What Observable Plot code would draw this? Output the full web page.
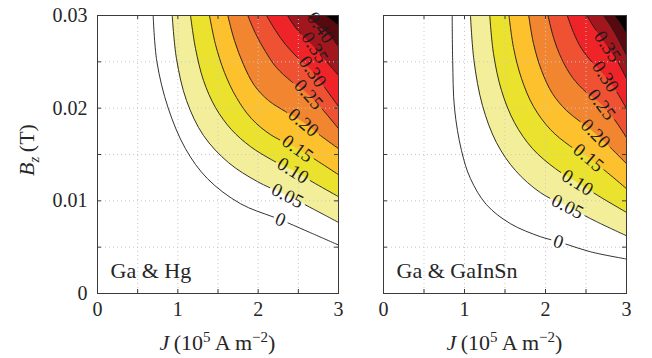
<!DOCTYPE html>
<html><head><meta charset="utf-8">
<script src="https://cdn.jsdelivr.net/npm/d3@7"></script>
<script src="https://cdn.jsdelivr.net/npm/@observablehq/plot@0.6"></script>
<style>
body{margin:0;background:#fff;}
#wrap{position:relative;width:652px;height:358px;font-family:"Liberation Serif",serif;color:#262626;overflow:hidden;}
#wrap svg{position:absolute;top:0;}
.t{position:absolute;font-size:22px;white-space:nowrap;line-height:1;}
.t sup{font-size:15px;vertical-align:8px;line-height:0;}
.t sub{font-size:15px;vertical-align:-5px;line-height:0;}
</style></head><body><div id="wrap"></div>
<script>
// contour levels and label texts
const levels = [0, 0.05, 0.10, 0.15, 0.20, 0.25, 0.30, 0.35, 0.40, 0.45];
const levelLabels = ["0", "0.05", "0.10", "0.15", "0.20", "0.25", "0.30", "0.35", "0.40"];
// fill colour of the band above each level (0.05 ... 0.45+)
const bandColors = ["#f2ee9a", "#ebe22e", "#fcc12c", "#f2852f", "#ee5232", "#ee2428", "#a2161e", "#560a10", "#0a0000"];

const xTicks = [0, 1, 2, 3];
const xTickLabels = ["0", "1", "2", "3"];
const yTicks = [0, 0.01, 0.02, 0.03];
const yTickLabels = ["0", "0.01", "0.02", "0.03"];
const xMinor = [0.5, 1, 1.5, 2, 2.5];
const yMinor = [0.005, 0.01, 0.015, 0.02, 0.025];

// contour lines, [J, Bz] — Ga & Hg
const gaHgContours = [
  [[0.693,0.03],[0.739,0.02503],[0.878,0.02006],[1.095,0.01563],[1.369,0.01239],[1.780,0.00969],[2.278,0.00796],[2.651,0.00656],[3,0.00523]],
  [[0.930,0.03],[0.983,0.02535],[1.108,0.02082],[1.320,0.01704],[1.631,0.01412],[1.992,0.01207],[2.365,0.01055],[2.689,0.00910],[3,0.00767]],
  [[1.158,0.03],[1.220,0.02644],[1.320,0.02298],[1.469,0.02006],[1.668,0.01768],[1.905,0.01585],[2.166,0.01444],[2.434,0.01326],[2.714,0.01185],[3,0.01045]],
  [[1.394,0.03],[1.469,0.02687],[1.581,0.02384],[1.730,0.02114],[1.917,0.01887],[2.154,0.01714],[2.490,0.01563],[2.751,0.01423],[3,0.01282]],
  [[1.622,0.03],[1.705,0.02730],[1.817,0.02471],[1.954,0.02244],[2.129,0.02082],[2.340,0.01963],[2.564,0.01844],[2.776,0.01704],[3,0.01563]],
  [[1.871,0.03],[1.967,0.02806],[2.091,0.02611],[2.228,0.02438],[2.415,0.02287],[2.627,0.02147],[2.813,0.01974],[3,0.01779]],
  [[2.104,0.03],[2.216,0.02838],[2.340,0.02687],[2.490,0.02546],[2.677,0.02395],[2.838,0.02211],[3,0.02017]],
  [[2.365,0.03],[2.465,0.02870],[2.577,0.02762],[2.702,0.02654],[2.851,0.02503],[3,0.02352]],
  [[2.610,0.03],[2.689,0.02935],[2.776,0.02870],[2.888,0.02784],[3,0.02665]],
  [[2.838,0.03],[2.913,0.02951],[3,0.02892]]
];
const gaHgLabelJ = [2.278, 2.365, 2.434, 2.490, 2.564, 2.627, 2.677, 2.702, 2.776];
const gaHgLabelB = [0.00796, 0.01055, 0.01326, 0.01563, 0.01844, 0.02147, 0.02395, 0.02654, 0.02870];
const gaHgLabelAngle = [22, 27, 32, 36, 40, 48, 55, 58, 55];

// contour lines — Ga & GaInSn
const gaInSnContours = [
  [[0.848,0.03],[0.854,0.02514],[0.877,0.01995],[0.963,0.01542],[1.074,0.01239],[1.272,0.00958],[1.568,0.00753],[1.938,0.00613],[2.160,0.00559],[2.556,0.00450],[3,0.00372]],
  [[1.074,0.03],[1.117,0.02514],[1.222,0.02028],[1.395,0.01628],[1.630,0.01326],[1.938,0.01088],[2.272,0.00937],[2.630,0.00775],[3,0.00623]],
  [[1.312,0.03],[1.358,0.02589],[1.457,0.02190],[1.617,0.01844],[1.840,0.01563],[2.123,0.01347],[2.395,0.01196],[2.691,0.01034],[3,0.00875]],
  [[1.549,0.03],[1.605,0.02654],[1.704,0.02319],[1.852,0.02017],[2.062,0.01768],[2.296,0.01596],[2.531,0.01466],[2.765,0.01304],[3,0.01131]],
  [[1.793,0.03],[1.852,0.02697],[1.951,0.02406],[2.086,0.02157],[2.259,0.01974],[2.444,0.01844],[2.617,0.01725],[2.802,0.01574],[3,0.01401]],
  [[2.031,0.03],[2.099,0.02762],[2.198,0.02535],[2.333,0.02330],[2.506,0.02168],[2.691,0.02039],[2.852,0.01876],[3,0.01682]],
  [[2.269,0.03],[2.346,0.02816],[2.444,0.02644],[2.580,0.02492],[2.741,0.02341],[2.877,0.02179],[3,0.01995]],
  [[2.512,0.03],[2.593,0.02881],[2.679,0.02773],[2.765,0.02665],[2.889,0.02503],[3,0.02319]],
  [[2.716,0.03],[2.802,0.02892],[2.901,0.02741],[3,0.02568]],
  [[2.852,0.03],[2.926,0.02914],[3,0.02806]]
];
const gaInSnLabelJ = [2.160, 2.272, 2.395, 2.531, 2.617, 2.691, 2.741, 2.765];
const gaInSnLabelB = [0.00559, 0.00937, 0.01196, 0.01466, 0.01725, 0.02039, 0.02341, 0.02665];
const gaInSnLabelAngle = [18, 27, 32, 40, 45, 53, 57, 57];

const H = 358, MT = 15, MB = 65;
const lineColor = "#1c1c1c", frameColor = "#3a3a3a";

function panel({contours, labelJ, labelB, labelAngle, name, width, marginLeft, marginRight, showY}) {
  const innerH = H - MT - MB, innerW = width - marginLeft - marginRight;
  const marks = [];
  contours.forEach((pts, i) => {
    if (i === 0) return;
    marks.push(Plot.areaY(pts.map(([J, B]) => ({J, B})), {
      x: "J", y1: "B", y2: 0.03, fill: bandColors[i - 1], curve: "catmull-rom"
    }));
  });
  marks.push(Plot.ruleX(xMinor, {stroke: "#c8c8c8", strokeDasharray: "1,3", strokeWidth: 1}));
  marks.push(Plot.ruleY(yMinor, {stroke: "#c8c8c8", strokeDasharray: "1,3", strokeWidth: 1}));
  contours.forEach((pts) => {
    marks.push(Plot.line(pts.map(([J, B]) => ({J, B})), {x: "J", y: "B", stroke: lineColor, strokeWidth: 0.9, curve: "catmull-rom", ariaDescription: "contour-line"}));
  });
  const labelData = labelJ.map((J, i) => ({J, B: labelB[i], text: levelLabels[i], a: labelAngle[i]}));
  marks.push(Plot.text(labelData, {x: "J", y: "B", text: "text", rotate: "a", fontSize: 19, fill: "#1c1c1c", fontFamily: "Liberation Serif", ariaDescription: "contour-labels"}));
  // inward ticks on all four sides
  marks.push(Plot.tickX(xMinor, {x: d => d, insetTop: innerH - 4, stroke: frameColor}));
  marks.push(Plot.tickX(xMinor, {x: d => d, insetBottom: innerH - 4, stroke: frameColor}));
  marks.push(Plot.tickY(yMinor, {y: d => d, insetRight: innerW - 4, stroke: frameColor}));
  marks.push(Plot.tickY(yMinor, {y: d => d, insetLeft: innerW - 4, stroke: frameColor}));
  marks.push(Plot.frame({stroke: frameColor, strokeWidth: 1}));
  marks.push(Plot.text([name], {text: d => d, frameAnchor: "bottom-left", dx: 13, dy: -23, textAnchor: "start", lineAnchor: "middle", fontSize: 22, fill: "#262626"}));
  return Plot.plot({
    width, height: H, marginLeft, marginRight, marginTop: MT, marginBottom: MB,
    style: {fontFamily: "Liberation Serif", fontSize: "20px", color: "#262626", background: "transparent", overflow: "visible"},
    x: {domain: [0, 3], ticks: xTicks, tickFormat: d => xTickLabels[xTicks.indexOf(d)], tickSize: 0, tickPadding: 8, label: null},
    y: showY ? {domain: [0, 0.03], ticks: yTicks, tickFormat: d => yTickLabels[yTicks.indexOf(d)], tickSize: 0, tickPadding: 10, label: null}
             : {domain: [0, 0.03], axis: null},
    marks
  });
}

// break each contour line where a label sits on it (stroke-dasharray along the path)
function gapLines(svg, labelJ, labelB) {
  const paths = [...svg.querySelectorAll('g[aria-description="contour-line"] path')];
  const texts = [...svg.querySelectorAll('g[aria-description="contour-labels"] text')];
  if (!paths.length || !texts.length) return;
  const sx = svg.scale("x"), sy = svg.scale("y");
  const lens = paths.map(p => p.getTotalLength());
  const gaps = paths.map(() => []);
  texts.forEach((t, i) => {
    const px = sx.apply(labelJ[i]), py = sy.apply(labelB[i]);
    const half = t.getBBox().width / 2 + 3;
    let best = {d: Infinity, k: -1, s: 0};
    paths.forEach((p, k) => {
      for (let s = 0; s <= lens[k]; s += 0.5) {
        const q = p.getPointAtLength(s);
        const d = (q.x - px) ** 2 + (q.y - py) ** 2;
        if (d < best.d) best = {d, k, s};
      }
    });
    if (best.k >= 0) gaps[best.k].push([best.s - half, best.s + half]);
  });
  paths.forEach((p, k) => {
    if (!gaps[k].length) return;
    gaps[k].sort((a, b) => a[0] - b[0]);
    const arr = [];
    let pos = 0;
    for (const [a, b] of gaps[k]) {
      const a1 = Math.max(a, pos);
      arr.push(Math.max(0, a1 - pos), Math.max(0, b - a1));
      pos = Math.max(b, pos);
    }
    arr.push(lens[k] - pos + 20, 0);
    p.setAttribute("stroke-dasharray", arr.map(v => v.toFixed(2)).join(" "));
  });
}

const wrap = document.getElementById("wrap");
const left = panel({contours: gaHgContours, labelJ: gaHgLabelJ, labelB: gaHgLabelB, labelAngle: gaHgLabelAngle,
  name: "Ga & Hg", width: 362, marginLeft: 97, marginRight: 24, showY: true});
const right = panel({contours: gaInSnContours, labelJ: gaInSnLabelJ, labelB: gaInSnLabelB, labelAngle: gaInSnLabelAngle,
  name: "Ga & GaInSn", width: 312, marginLeft: 43, marginRight: 26, showY: false});
left.style.left = "0px";
right.style.left = "340px";
wrap.append(left, right);
try { gapLines(left, gaHgLabelJ, gaHgLabelB); } catch (e) { console.error(e); }
try { gapLines(right, gaInSnLabelJ, gaInSnLabelB); } catch (e) { console.error(e); }

function addText(html, x, y, rotate) {
  const d = document.createElement("div");
  d.className = "t";
  d.innerHTML = html;
  wrap.append(d);
  const w = d.offsetWidth, h = d.offsetHeight;
  d.style.left = (x - w / 2) + "px";
  d.style.top = (y - h / 2) + "px";
  if (rotate) d.style.transform = `rotate(${rotate}deg)`;
}
const xTitle = "<i>J</i>&thinsp;(10<sup>5</sup> A m<sup>−2</sup>)";
addText(xTitle, 217.5, 343, 0);
addText(xTitle, 504.5, 343, 0);
addText("<i>B<sub>z</sub></i>&thinsp;(T)", 27, 150, -90);
</script></body></html>
